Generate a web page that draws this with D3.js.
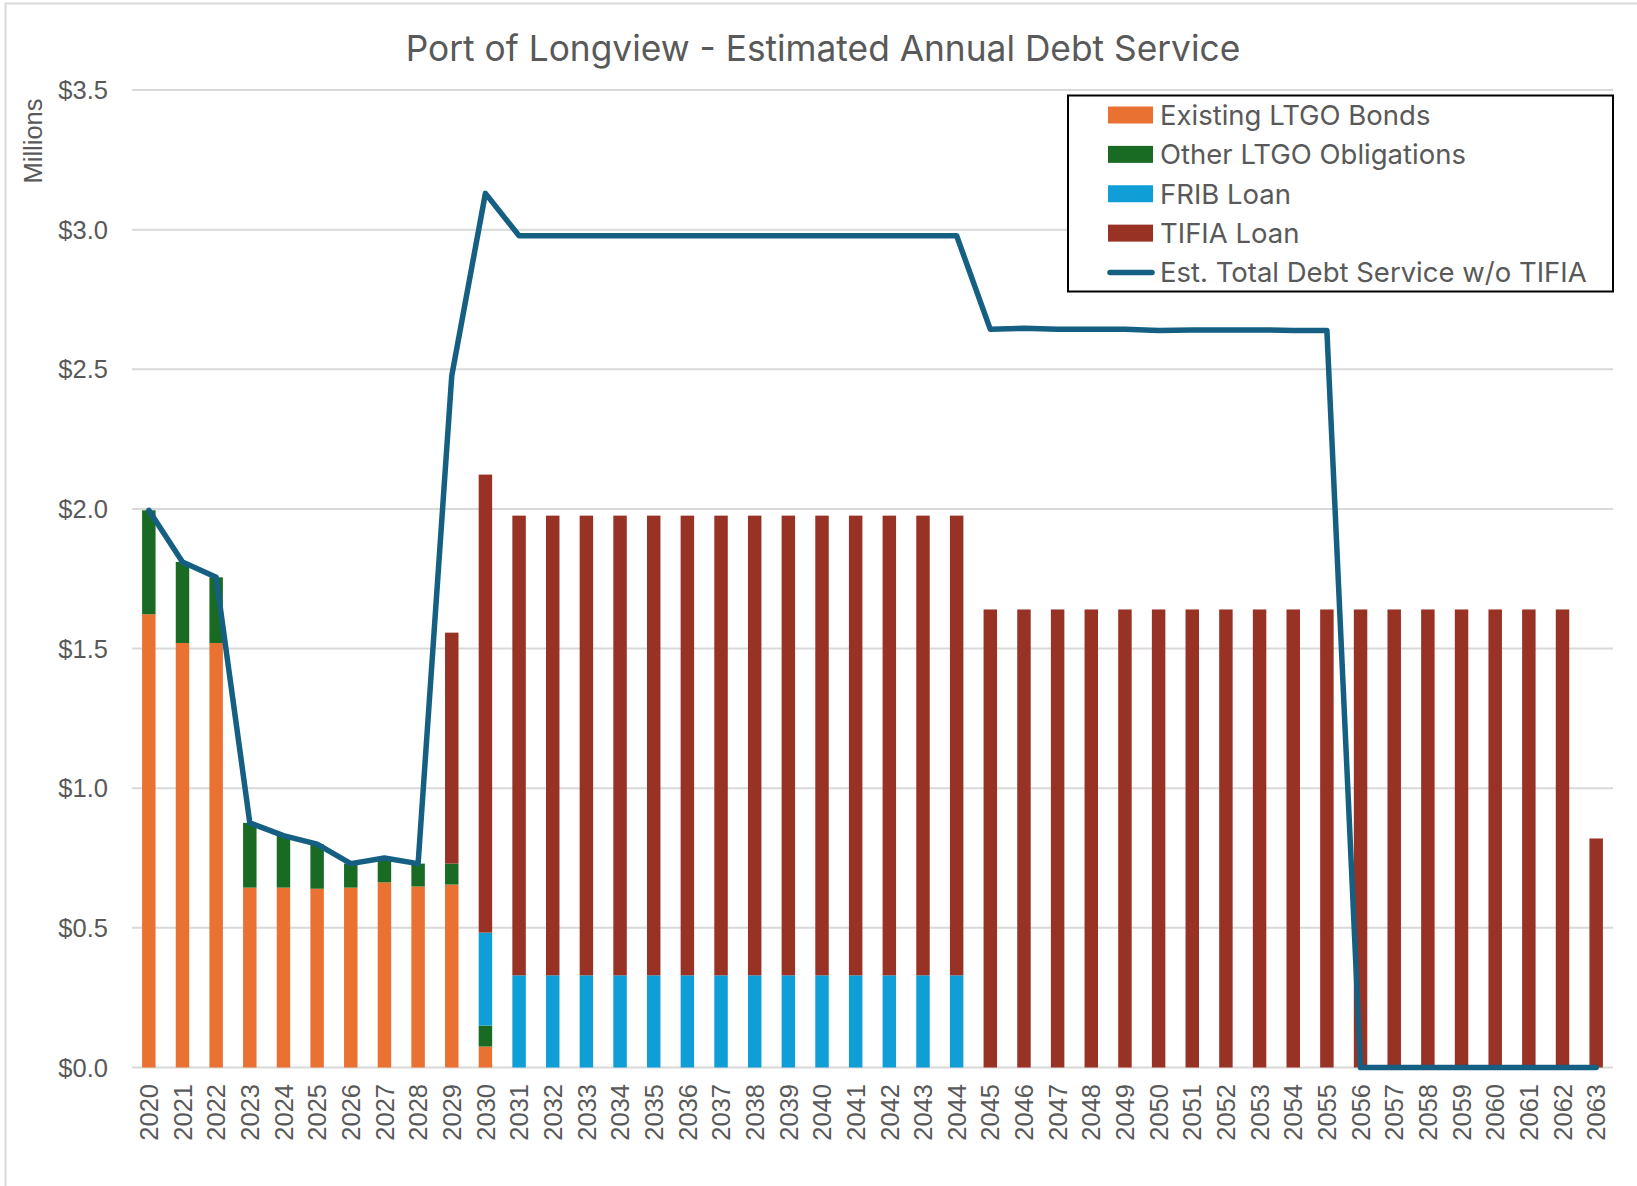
<!DOCTYPE html>
<html>
<head>
<meta charset="utf-8">
<script src="https://cdn.jsdelivr.net/npm/d3@7"></script>
<style>
  body { margin: 0; background: #fff; }
  .tick-label { font-family: "Liberation Sans", Arial, sans-serif; font-size: 25.5px; fill: #595959; }
  .title { font-family: Inter, "Liberation Sans", sans-serif; font-size: 35.3px; fill: #595959; }
  .legend-text { font-family: Inter, "Liberation Sans", sans-serif; font-size: 27.5px; fill: #595959; }
</style>
</head>
<body>
<div id="chart"></div>
<script>
// categories
var years = ["2020","2021","2022","2023","2024","2025","2026","2027","2028","2029",
  "2030","2031","2032","2033","2034","2035","2036","2037","2038","2039",
  "2040","2041","2042","2043","2044","2045","2046","2047","2048","2049",
  "2050","2051","2052","2053","2054","2055","2056","2057","2058","2059",
  "2060","2061","2062","2063"];

// series values, $ millions
var existingBonds = [1.623,1.52,1.52,0.644,0.644,0.640,0.644,0.663,0.648,0.655,
  0.075,0,0,0,0,0,0,0,0,0, 0,0,0,0,0,0,0,0,0,0, 0,0,0,0,0,0,0,0,0,0, 0,0,0,0];
var otherObligations = [0.372,0.29,0.235,0.232,0.186,0.16,0.086,0.087,0.082,0.075,
  0.075,0,0,0,0,0,0,0,0,0, 0,0,0,0,0,0,0,0,0,0, 0,0,0,0,0,0,0,0,0,0, 0,0,0,0];
var fribLoan = [0,0,0,0,0,0,0,0,0,0,
  0.333,0.33,0.33,0.33,0.33,0.33,0.33,0.33,0.33,0.33,
  0.33,0.33,0.33,0.33,0.33,0,0,0,0,0, 0,0,0,0,0,0,0,0,0,0, 0,0,0,0];
var tifiaLoan = [0,0,0,0,0,0,0,0,0,0.827,
  1.64,1.646,1.646,1.646,1.646,1.646,1.646,1.646,1.646,1.646,
  1.646,1.646,1.646,1.646,1.646,1.64,1.64,1.64,1.64,1.64,
  1.64,1.64,1.64,1.64,1.64,1.64,1.64,1.64,1.64,1.64,
  1.64,1.64,1.64,0.82];
var totalNoTifia = [1.995,1.81,1.755,0.876,0.83,0.80,0.73,0.75,0.73,2.477,
  3.13,2.978,2.978,2.978,2.978,2.978,2.978,2.978,2.978,2.978,
  2.978,2.978,2.978,2.978,2.978,2.643,2.647,2.643,2.643,2.643,
  2.639,2.641,2.641,2.641,2.639,2.639,0,0,0,0,
  0,0,0,0];

var yTicks = [0, 0.5, 1.0, 1.5, 2.0, 2.5, 3.0, 3.5];

var seriesNames = ["Existing LTGO Bonds", "Other LTGO Obligations", "FRIB Loan", "TIFIA Loan"];
var seriesColors = ["#E97132", "#196B24", "#0F9ED5", "#983224"];
var lineName = "Est. Total Debt Service w/o TIFIA";
var lineColor = "#156082";

var rows = years.map(function(y, i) {
  return { year: y, s0: existingBonds[i], s1: otherObligations[i], s2: fribLoan[i], s3: tifiaLoan[i], total: totalNoTifia[i] };
});

var W = 1637, H = 1186;
var plotLeft = 132, plotRight = 1613, plotTop = 90, plotBottom = 1067.5;

var svg = d3.select("#chart").append("svg")
    .attr("width", W)
    .attr("height", H);

// outer chart border
svg.append("rect")
    .attr("x", 5.5).attr("y", 3.5)
    .attr("width", W + 20).attr("height", H + 20)
    .attr("fill", "none")
    .attr("stroke", "#d9d9d9")
    .attr("stroke-width", 2);

var x = d3.scaleBand().domain(years).range([plotLeft, plotRight]).paddingInner(0.6).paddingOuter(0.3);
var y = d3.scaleLinear().domain([0, 3.5]).range([plotBottom, plotTop]);

// gridlines
svg.append("g")
  .selectAll("line")
  .data(yTicks)
  .enter().append("line")
    .attr("x1", plotLeft).attr("x2", plotRight)
    .attr("y1", function(d) { return y(d); })
    .attr("y2", function(d) { return y(d); })
    .attr("stroke", "#d9d9d9")
    .attr("stroke-width", 2);

// y tick labels
svg.append("g")
  .selectAll("text")
  .data(yTicks)
  .enter().append("text")
    .attr("class", "tick-label")
    .attr("x", 108)
    .attr("y", function(d) { return y(d); })
    .attr("dy", "0.36em")
    .attr("text-anchor", "end")
    .text(function(d) { return "$" + d3.format(".1f")(d); });

svg.append("text")
    .attr("class", "tick-label")
    .attr("transform", "translate(33,141) rotate(-90)")
    .attr("dy", "0.36em")
    .attr("text-anchor", "middle")
    .attr("font-size", 26)
    .text("Millions");

// x labels
svg.append("g")
  .selectAll("text")
  .data(years)
  .enter().append("text")
    .attr("class", "tick-label")
    .attr("transform", function(d) {
      return "translate(" + (x(d) + x.bandwidth() / 2) + ",1084) rotate(-90)";
    })
    .attr("dy", "0.36em")
    .attr("text-anchor", "end")
    .text(function(d) { return d; });

// stacked bars
var stack = d3.stack().keys(["s0", "s1", "s2", "s3"]);
var layers = stack(rows);

svg.append("g")
  .selectAll("g")
  .data(layers)
  .enter().append("g")
    .attr("fill", function(d, i) { return seriesColors[i]; })
  .selectAll("rect")
  .data(function(d) { return d.filter(function(p) { return p[1] - p[0] > 0; }); })
  .enter().append("rect")
    .attr("x", function(d) { return x(d.data.year); })
    .attr("width", x.bandwidth())
    .attr("y", function(d) { return y(d[1]); })
    .attr("height", function(d) { return y(d[0]) - y(d[1]); });

// total line
var line = d3.line()
    .x(function(d) { return x(d.year) + x.bandwidth() / 2; })
    .y(function(d) { return y(d.total); });

svg.append("path")
    .datum(rows)
    .attr("fill", "none")
    .attr("stroke", lineColor)
    .attr("stroke-width", 5.5)
    .attr("stroke-linejoin", "round")
    .attr("stroke-linecap", "round")
    .attr("d", line);

// title
svg.append("text")
    .attr("class", "title")
    .attr("x", 823)
    .attr("y", 61)
    .attr("text-anchor", "middle")
    .text("Port of Longview - Estimated Annual Debt Service");

// legend
var legend = svg.append("g");
legend.append("rect")
    .attr("x", 1068).attr("y", 95.5)
    .attr("width", 545).attr("height", 196)
    .attr("fill", "#fff")
    .attr("stroke", "#000")
    .attr("stroke-width", 2);

var rowY = d3.scaleLinear().domain([0, 4]).range([115, 272.5]);

seriesNames.forEach(function(name, i) {
  legend.append("rect")
      .attr("x", 1108).attr("y", rowY(i) - 8.5)
      .attr("width", 45).attr("height", 17)
      .attr("fill", seriesColors[i]);
  legend.append("text")
      .attr("class", "legend-text")
      .attr("x", 1160).attr("y", rowY(i))
      .attr("dy", "0.36em")
      .text(name);
});

legend.append("line")
    .attr("x1", 1110).attr("x2", 1152)
    .attr("y1", rowY(4)).attr("y2", rowY(4))
    .attr("stroke", lineColor)
    .attr("stroke-width", 5.5)
    .attr("stroke-linecap", "round");
legend.append("text")
    .attr("class", "legend-text")
    .attr("x", 1160).attr("y", rowY(4))
    .attr("dy", "0.36em")
    .text(lineName);
</script>
</body>
</html>
